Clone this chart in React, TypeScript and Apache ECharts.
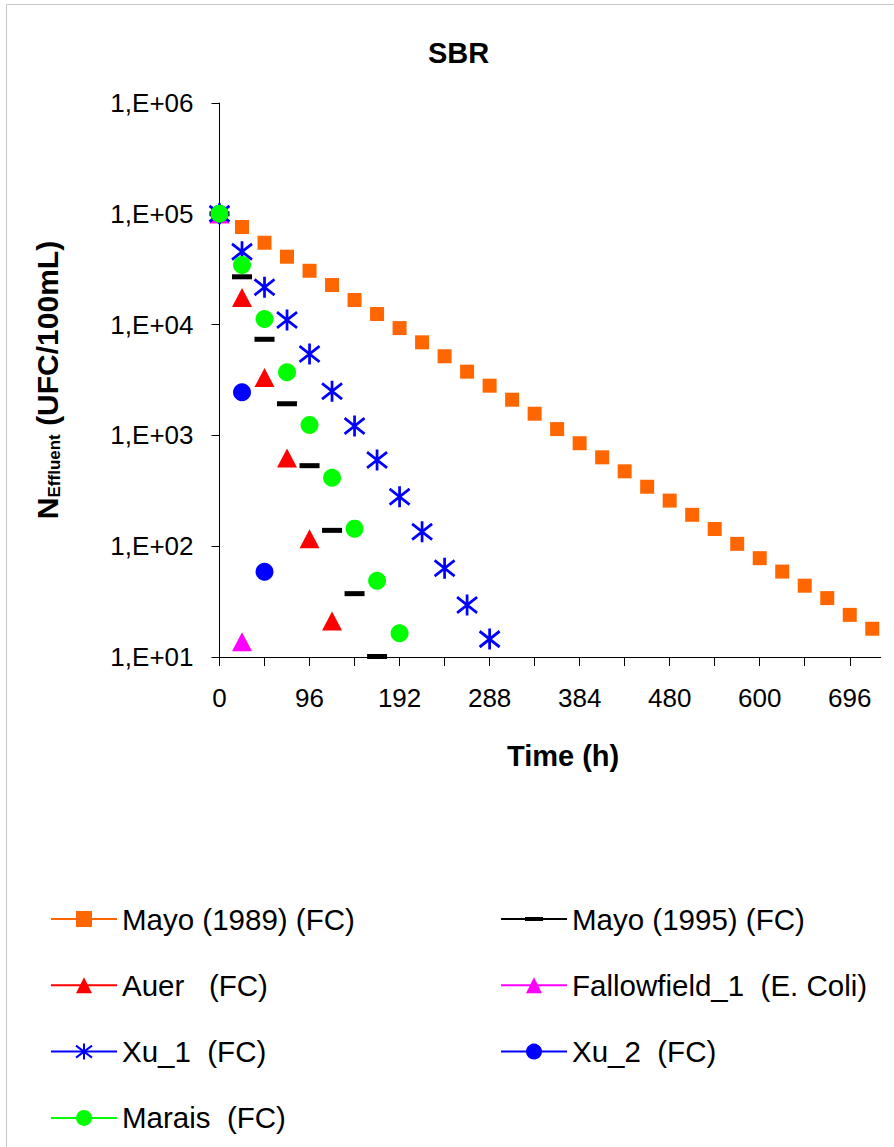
import React, { useEffect, useRef } from 'react';
import * as echarts from 'echarts';

// ---- data ----
const mayo1989Times = [0, 24, 48, 72, 96, 120, 144, 168, 192, 216, 240, 264, 288, 312, 336, 360, 384, 408, 432, 456, 480, 504, 528, 552, 576, 600, 624, 648, 672, 696];
const mayo1989Values = [100000, 76000, 54800, 41000, 30600, 22750, 16670, 12470, 9300, 6920, 5180, 3760, 2810, 2100, 1570, 1140, 850, 634, 474, 344, 258, 192, 143, 105, 78, 59, 44, 34, 24, 18];
const mayo1995Times = [0, 24, 48, 72, 96, 120, 144, 168];
const mayo1995Values = [100000, 27000, 7370, 1930, 533, 139, 37.3, 10.1];
const auerTimes = [0, 24, 48, 72, 96, 120];
const auerValues = [100000, 17550, 3330, 625, 117, 21.1];
const fallowfieldTimes = [0, 24];
const fallowfieldValues = [100000, 13.7];
const xu1Times = [0, 24, 48, 72, 96, 120, 144, 168, 192, 216, 240, 264, 288];
const xu1Values = [100000, 45500, 21700, 11000, 5430, 2500, 1216, 600, 280, 135, 63.2, 29.5, 14.5];
const xu2Times = [0, 24, 48];
const xu2Values = [100000, 2450, 58.9];
const maraisTimes = [0, 24, 48, 72, 96, 120, 144, 168, 192];
const maraisValues = [100000, 34500, 11240, 3710, 1240, 415, 144, 48.8, 16.4];

const xTickValues = [0, 48, 96, 144, 192, 240, 288, 336, 384, 432, 480, 528, 576, 624, 672];
const xLabelValues = [0, 96, 192, 288, 384, 480, 576, 672];
const xLabelTexts = ['0', '96', '192', '288', '384', '480', '600', '696'];
const yTickLabels = ['1,E+01', '1,E+02', '1,E+03', '1,E+04', '1,E+05', '1,E+06'];

const FONT = "'Liberation Sans', Arial, sans-serif";
const DASH = 'path://M0,0L20,0L20,5L0,5Z';
const DASH_LEGEND = 'path://M0,1L66,1L66,3L0,3Z M24,0L42,0L42,4L24,4Z';
const STAR = 'path://M10,0L10,20M0,2.5L20,17.5M0,17.5L20,2.5';

const pair = (ts: number[], vs: number[]) => ts.map((t, i) => [t, vs[i]]);

function mk(name: string, data: number[][], color: string, symbol: string, size: any, extra: any = {}) {
  return {
    name,
    type: 'line',
    data,
    symbol,
    symbolSize: size,
    showSymbol: true,
    itemStyle: { color, ...(extra.itemStyle || {}) },
    lineStyle: { color, width: 2, opacity: 0 },
    emphasis: { disabled: true },
  };
}

export default function App() {
  const ref = useRef<HTMLDivElement>(null);
  useEffect(() => {
    if (!ref.current) return;
    const chart = echarts.init(ref.current, null, { renderer: 'svg' });
    const legendCommon = {
      orient: 'vertical',
      top: 904,
      padding: 0,
      itemWidth: 66,
      itemHeight: 20,
      itemGap: 36.3,
      selectedMode: false,
      symbolKeepAspect: true,
      textStyle: { fontFamily: FONT, fontSize: 29.5, color: '#000', lineHeight: 30 },
      lineStyle: { width: 2, opacity: 1 },
    };
    chart.setOption({
      animation: false,
      backgroundColor: '#fff',
      title: {
        text: 'SBR',
        left: 423,
        top: 33,
        padding: 5,
        textStyle: { fontFamily: FONT, fontSize: 29, fontWeight: 'bold', color: '#000' },
      },
      graphic: [
        {
          type: 'rect',
          shape: { x: 6.5, y: 4.5, width: 1000, height: 1200 },
          style: { fill: 'none', stroke: '#c8c8c8', lineWidth: 1 },
          silent: true,
        },
      ],
      grid: { left: 219.5, right: 13.3, top: 103, bottom: 490, containLabel: false },
      xAxis: {
        type: 'value',
        min: 0,
        max: 705,
        name: 'Time (h)',
        nameLocation: 'middle',
        nameGap: 84,
        nameTextStyle: { fontFamily: FONT, fontSize: 29, fontWeight: 'bold', color: '#000', padding: [0, 0, 0, 26] },
        axisLine: { lineStyle: { color: '#000', width: 1 } },
        axisTick: { show: true, length: 9, lineStyle: { color: '#000' }, customValues: xTickValues },
        axisLabel: {
          fontFamily: FONT,
          fontSize: 26,
          color: '#000',
          margin: 28,
          customValues: xLabelValues,
          formatter: (v: number) => {
            const i = xLabelValues.indexOf(v);
            return i >= 0 ? xLabelTexts[i] : '';
          },
        },
        splitLine: { show: false },
      },
      yAxis: {
        type: 'log',
        logBase: 10,
        min: 10,
        max: 1000000,
        name: '{n|N}{s|Effluent}{n| (UFC/100mL)}',
        nameLocation: 'middle',
        nameRotate: 90,
        nameGap: 157,
        nameTextStyle: {
          rich: {
            n: { fontFamily: FONT, fontSize: 30, fontWeight: 'bold', color: '#000', verticalAlign: 'bottom', lineHeight: 32 },
            s: { fontFamily: FONT, fontSize: 17, fontWeight: 'bold', color: '#000', verticalAlign: 'bottom', lineHeight: 26 },
          },
        },
        axisLine: { show: true, lineStyle: { color: '#000', width: 1 } },
        axisTick: { show: true, length: 8, lineStyle: { color: '#000' } },
        axisLabel: {
          fontFamily: FONT,
          fontSize: 26,
          color: '#000',
          margin: 26,
          formatter: (v: number) => yTickLabels[Math.round(Math.log10(v)) - 1] ?? '',
        },
        splitLine: { show: false },
      },
      legend: [
        { ...legendCommon, left: 50, data: ['Mayo (1989) (FC)', 'Auer   (FC)', 'Xu_1  (FC)', 'Marais  (FC)'] },
        {
          ...legendCommon,
          left: 500,
          data: [{ name: 'Mayo (1995) (FC)', icon: DASH_LEGEND }, 'Fallowfield_1  (E. Coli)', 'Xu_2  (FC)'],
        },
      ],
      series: [
        mk('Mayo (1989) (FC)', pair(mayo1989Times, mayo1989Values), '#FF6600', 'rect', 14),
        mk('Mayo (1995) (FC)', pair(mayo1995Times, mayo1995Values), '#000000', DASH, [20, 5]),
        mk('Auer   (FC)', pair(auerTimes, auerValues), '#FF0000', 'triangle', [20, 19]),
        mk('Fallowfield_1  (E. Coli)', pair(fallowfieldTimes, fallowfieldValues), '#FF00FF', 'triangle', [20, 19]),
        mk('Xu_1  (FC)', pair(xu1Times, xu1Values), '#0000FF', STAR, [20, 21], { itemStyle: { borderColor: '#0000FF', borderWidth: 2.8 } }),
        mk('Xu_2  (FC)', pair(xu2Times, xu2Values), '#0000FF', 'circle', 18),
        mk('Marais  (FC)', pair(maraisTimes, maraisValues), '#00FF00', 'circle', 18),
      ],
    });
    return () => chart.dispose();
  }, []);
  return (
    <div
      ref={ref}
      style={{ position: 'fixed', left: 0, top: 0, width: 894, height: 1147, background: '#fff' }}
    />
  );
}
